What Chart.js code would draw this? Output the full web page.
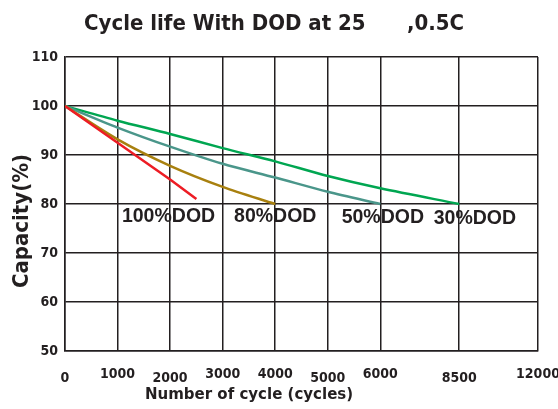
<!DOCTYPE html>
<html>
<head>
<meta charset="utf-8">
<title>Cycle life With DOD</title>
<script src="https://cdn.jsdelivr.net/npm/chart.js@4/dist/chart.umd.min.js"></script>
<style>
  html, body { margin: 0; padding: 0; background: #fff; }
  #wrap { width: 558px; height: 409px; position: relative; }
</style>
</head>
<body>
<div id="wrap"><canvas id="cycleChart"></canvas></div>
<script>
// Cycle life vs depth of discharge
const xTickValues = [0, 1000, 2000, 3000, 4000, 5000, 6000, 8500, 12000];
const xTickLabels = ['0', '1000', '2000', '3000', '4000', '5000', '6000', '8500', '12000'];
const yTickValues = [50, 60, 70, 80, 90, 100, 110];

const seriesLabels = ['100%DOD', '80%DOD', '50%DOD', '30%DOD'];

const dod100Cycles = [0, 1000, 2000, 2500];
const dod100Capacity = [100, 92.5, 85, 81];

const dod80Cycles = [0, 1000, 2000, 3000, 4000];
const dod80Capacity = [100, 93.2, 87.8, 83.5, 80];

const dod50Cycles = [0, 1000, 2000, 3000, 4000, 5000, 6000];
const dod50Capacity = [100, 95.6, 91.7, 88.2, 85.4, 82.5, 80];

const dod30Cycles = [0, 1000, 2000, 3000, 4000, 5000, 6000, 8500];
const dod30Capacity = [100, 97, 94.3, 91.4, 88.7, 85.7, 83.2, 80];

const INK = '#231f20';
const CONDENSED = '"DejaVu Sans Condensed", "DejaVu Sans", sans-serif';

// the grid columns are even up to 6000, the last two are wider
const xSlots = [0, 1, 2, 3, 4, 5, 6, 7.5, 9];
const lastSlot = xSlots[xSlots.length - 1];

function cyclesToSlot(v) {
	for (let i = 1; i < xTickValues.length; i++) {
		if (v <= xTickValues[i]) {
			const a = xTickValues[i - 1], b = xTickValues[i];
			return xSlots[i - 1] + (v - a) / (b - a) * (xSlots[i] - xSlots[i - 1]);
		}
	}
	return lastSlot;
}

function slotToCycles(s) {
	for (let i = 1; i < xSlots.length; i++) {
		if (s <= xSlots[i]) {
			const a = xSlots[i - 1], b = xSlots[i];
			return xTickValues[i - 1] + (s - a) / (b - a) * (xTickValues[i] - xTickValues[i - 1]);
		}
	}
	return xTickValues[xTickValues.length - 1];
}

class SegmentScale extends Chart.LinearScale {
	getPixelForValue(value) {
		if (value === null || value === undefined) return NaN;
		return this.getPixelForDecimal(cyclesToSlot(value) / lastSlot);
	}
	getValueForPixel(pixel) {
		return slotToCycles(this.getDecimalForPixel(pixel) * lastSlot);
	}
}
SegmentScale.id = 'segment';
SegmentScale.defaults = Chart.LinearScale.defaults;
Chart.register(SegmentScale);

function toPoints(xs, ys) {
	return xs.map((x, i) => ({ x, y: ys[i] }));
}

// labels that sit a little lower on the x axis
const lowTicks = [0, 2000, 5000, 8500];

// series names and axis titles drawn on the canvas
const notesPlugin = {
	id: 'dodNotes',
	afterDatasetsDraw(chart, args, opts) {
		const { ctx, scales: { x, y } } = chart;
		ctx.save();
		ctx.fillStyle = INK;
		ctx.textAlign = 'center';
		ctx.textBaseline = 'middle';
		ctx.font = 'bold 19.5px "Liberation Sans", Arial, sans-serif';
		opts.notes.forEach((n, i) => {
			ctx.fillText(seriesLabels[i], x.getPixelForValue(n.x), y.getPixelForValue(n.y));
		});
		ctx.font = 'bold 16.7px ' + CONDENSED;
		ctx.fillText('Number of cycle (cycles)', 249, 394.5);
		ctx.translate(22, 221);
		ctx.rotate(-Math.PI / 2);
		ctx.font = 'bold 22px ' + CONDENSED;
		ctx.fillText('Capacity(%)', 0, 0);
		ctx.restore();
	}
};

const ctx = document.getElementById('cycleChart').getContext('2d');

new Chart(ctx, {
	type: 'line',
	data: {
		datasets: [
			{ label: seriesLabels[0], data: toPoints(dod100Cycles, dod100Capacity), borderColor: '#ed1c24', tension: 0 },
			{ label: seriesLabels[1], data: toPoints(dod80Cycles, dod80Capacity), borderColor: '#a8800f', tension: 0.3 },
			{ label: seriesLabels[2], data: toPoints(dod50Cycles, dod50Capacity), borderColor: '#4a968a', tension: 0.3 },
			{ label: seriesLabels[3], data: toPoints(dod30Cycles, dod30Capacity), borderColor: '#00a651', tension: 0.3 }
		]
	},
	options: {
		responsive: true,
		maintainAspectRatio: false,
		animation: false,
		datasets: {
			line: { borderWidth: 2.5, pointRadius: 0, fill: false }
		},
		layout: { padding: { left: 10, right: 20, top: 0, bottom: 0 } },
		plugins: {
			legend: { display: false },
			tooltip: { enabled: false },
			title: {
				display: true,
				text: 'Cycle life With DOD at 25      ,0.5C',
				color: INK,
				font: { family: CONDENSED, size: 22, weight: 'bold', lineHeight: 1.2 },
				padding: { top: 10.8, bottom: 19.8 }
			},
			dodNotes: {
				notes: [
					{ x: 1970, y: 77.5 },
					{ x: 4000, y: 77.5 },
					{ x: 6080, y: 77.3 },
					{ x: 9200, y: 77.0 }
				]
			}
		},
		scales: {
			x: {
				type: 'segment',
				min: 0,
				max: 12000,
				afterBuildTicks: scale => {
					scale.ticks = xTickValues.map(v => ({ value: v }));
				},
				afterFit: scale => {
					scale.height = 58;
					scale.paddingLeft = 0;
					scale.paddingRight = 0;
				},
				grid: { color: INK, lineWidth: 1.5, drawTicks: false },
				border: { color: INK, width: 1.5 },
				ticks: {
					color: INK,
					padding: 14.6,
					maxRotation: 0,
					autoSkip: false,
					font: c => ({
						family: CONDENSED,
						size: 14,
						weight: 'bold',
						lineHeight: c.tick && lowTicks.includes(c.tick.value) ? 1.84 : 1.2
					}),
					callback: (value, index) => xTickLabels[index]
				}
			},
			y: {
				min: 50,
				max: 110,
				afterBuildTicks: scale => {
					scale.ticks = yTickValues.map(v => ({ value: v }));
				},
				afterFit: scale => {
					scale.width = 55;
				},
				grid: { color: INK, lineWidth: 1.5, drawTicks: false },
				border: { color: INK, width: 1.5 },
				ticks: {
					color: INK,
					padding: 7,
					font: { family: CONDENSED, size: 14, weight: 'bold' }
				}
			}
		}
	},
	plugins: [notesPlugin]
});
</script>
</body>
</html>
